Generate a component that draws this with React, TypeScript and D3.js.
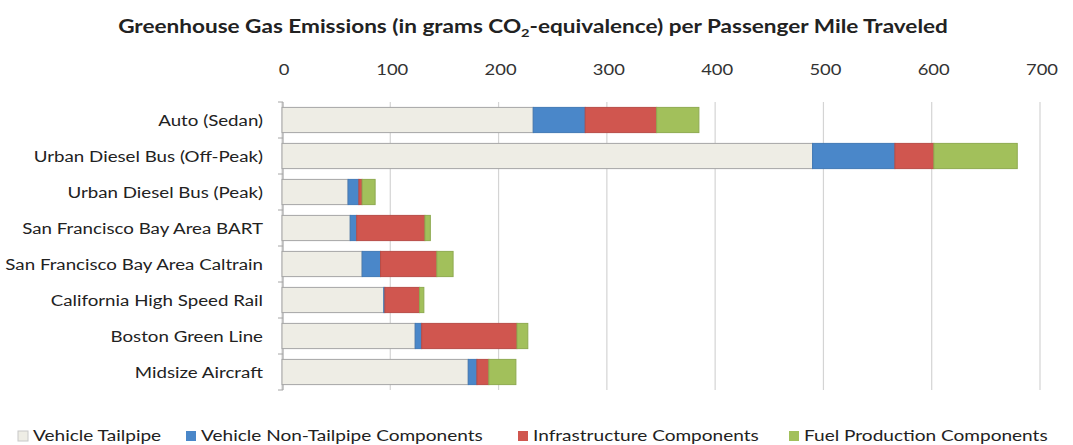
import React from "react";
import * as d3 from "d3";

const categories = [
  "Auto (Sedan)",
  "Urban Diesel Bus (Off-Peak)",
  "Urban Diesel Bus (Peak)",
  "San Francisco Bay Area BART",
  "San Francisco Bay Area Caltrain",
  "California High Speed Rail",
  "Boston Green Line",
  "Midsize Aircraft",
];
const seriesNames = [
  "Vehicle Tailpipe",
  "Vehicle Non-Tailpipe Components",
  "Infrastructure Components",
  "Fuel Production Components",
];
const tailpipe = [232, 490, 61, 63, 74, 94, 123, 172];
const nonTailpipe = [48, 76, 10, 6, 17, 1, 6, 8];
const infrastructure = [66, 36, 3, 63, 52, 32, 88, 11];
const fuelProduction = [39, 77, 12, 5, 15, 4, 10, 25];
const xTicks = [0, 100, 200, 300, 400, 500, 600, 700];

const colors = ["#EEEDE5", "#4A87C9", "#D0564F", "#A2C05B"];
const strokes = ["#A6A6A6", "#4279B5", "#B84C46", "#8EAA50"];

const SX = 1.2; // horizontal stretch of the reference's lettering

function T({ x, y, sx = SX, children, ...rest }: any) {
  return (
    <text transform={`translate(${x},${y}) scale(${sx},1)`} {...rest}>
      {children}
    </text>
  );
}

export default function App() {
  const W = 1073, H = 445;
  const x = d3.scaleLinear().domain([0, 700]).range([282, 1040]);
  const y = d3.scaleBand().domain(categories).range([102, 390]).paddingInner(0.3).paddingOuter(0.15);
  const bandEdges = d3.range(categories.length + 1).map((i) => 102 + (i * 288) / categories.length);
  const series = [tailpipe, nonTailpipe, infrastructure, fuelProduction];
  const rows = categories.map((c, i) => {
    const o: any = { cat: c };
    seriesNames.forEach((s, k) => (o[s] = series[k][i]));
    return o;
  });
  const stacked = d3.stack().keys(seriesNames)(rows);
  const font = "Lato, sans-serif";
  const legendX = [18, 186, 518, 789];
  return (
    <div style={{ position: "absolute", left: 0, top: 0 }}>
      <svg width={W} height={H} style={{ display: "block", background: "#fff" }}>
        <T x={533} y={33} sx={1.22} textAnchor="middle" fontFamily={font} fontWeight="bold" fontSize={18.5} fill="#222">
          Greenhouse Gas Emissions (in grams CO
          <tspan fontSize={12} dy={4}>2</tspan>
          <tspan dy={-4}>-equivalence) per Passenger Mile Traveled</tspan>
        </T>
        {xTicks.map((t) => (
          <g key={t}>
            <line x1={x(t)} x2={x(t)} y1={102} y2={390} stroke="#D4D4D4" strokeWidth={1.2} />
            <T x={x(t) + 2} y={75} sx={1.15} textAnchor="middle" fontFamily={font} fontSize={16} fill="#333">
              {t}
            </T>
          </g>
        ))}
        <line x1={283} x2={283} y1={102} y2={390} stroke="#A6A6A6" strokeWidth={1.2} />
        {bandEdges.map((e, i) => (
          <line key={i} x1={278} x2={283} y1={e} y2={e} stroke="#A6A6A6" />
        ))}
        {stacked.map((s, k) => (
          <g key={k}>
            {s.map((d, i) => (
              <rect
                key={i}
                x={x(d[0])}
                y={y(categories[i])!}
                width={Math.max(0, x(d[1]) - x(d[0]))}
                height={y.bandwidth()}
                fill={colors[k]}
                stroke={strokes[k]}
                strokeWidth={1}
              />
            ))}
          </g>
        ))}
        {categories.map((c) => (
          <T key={c} x={263} y={y(c)! + y.bandwidth() / 2 + 6} sx={1.17} textAnchor="end" fontFamily={font} fontSize={16} fill="#222">
            {c}
          </T>
        ))}
        {seriesNames.map((s, k) => (
          <g key={s}>
            <rect x={legendX[k]} y={431} width={10} height={10} fill={colors[k]} stroke={k === 0 ? "#C8C8C8" : "none"} />
            <T x={legendX[k] + 15} y={441} sx={1.19} fontFamily={font} fontSize={16} fill="#222">
              {s}
            </T>
          </g>
        ))}
      </svg>
    </div>
  );
}
